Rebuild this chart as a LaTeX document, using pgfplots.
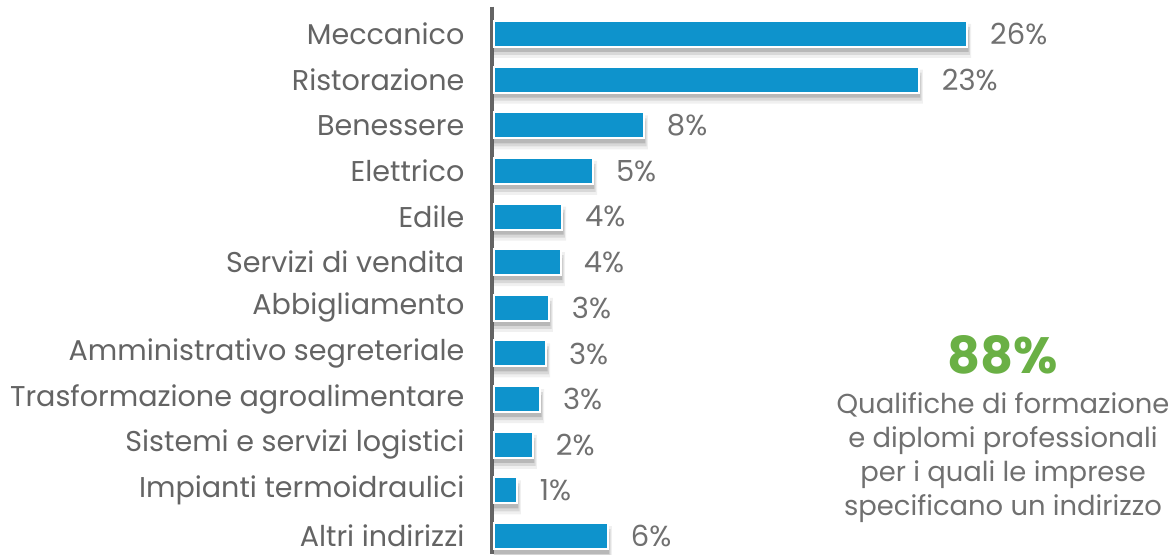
\documentclass[border=0pt]{standalone}
\usepackage{fontspec}
\setmainfont{Poppins}
\usepackage{pgfplots}
\pgfplotsset{compat=1.18}
\usepackage{pgfplotstable}
\definecolor{barblue}{RGB}{14,147,204}
\definecolor{labgray}{RGB}{100,100,100}
\definecolor{valgray}{RGB}{112,112,112}
\definecolor{axgray}{RGB}{100,100,100}
\definecolor{numgreen}{RGB}{106,176,69}
\pgfplotstableread{
y x label
0 26.0 26\%
1 23.35 23\%
2 8.24 8\%
3 5.44 5\%
4 3.74 4\%
5 3.68 4\%
6 3.02 3\%
7 2.86 3\%
8 2.53 3\%
9 2.14 2\%
10 1.26 1\%
11 6.26 6\%
}\shares
\begin{document}
\begin{tikzpicture}
\path[use as bounding box] (0,0) rectangle (587pt,277pt);
\begin{axis}[at={(246pt,273.7pt)},anchor=north west,scale only axis,
  width=337.7pt,height=273.85pt,
  xmin=-0.11,xmax=37,ymin=-0.6,ymax=11.4,y dir=reverse,
  hide x axis,axis y line=left,
  y axis line style={-,draw=axgray,line width=2pt},
  ytick={0,...,11},ytick style={draw=none},
  yticklabels={Meccanico,Ristorazione,Benessere,Elettrico,Edile,Servizi di vendita,Abbigliamento,Amministrativo segreteriale,Trasformazione agroalimentare,Sistemi e servizi logistici,Impianti termoidraulici,Altri indirizzi},
  yticklabel style={font=\fontsize{14.3}{16}\selectfont,text=labgray,inner sep=0pt,xshift=-11.5pt},
  clip=false]
% soft shadow, built from a few translucent layers (offset down/right by bar shift and x filter)
\addplot[xbar,bar width=17pt,bar shift=-3.5pt,fill=black,fill opacity=0.06,draw=none,forget plot,
  x filter/.expression={x+0.22}] table[x=x,y=y] {\shares};
\addplot[xbar,bar width=14pt,bar shift=-3.5pt,fill=black,fill opacity=0.10,draw=none,forget plot,
  x filter/.expression={x+0.15}] table[x=x,y=y] {\shares};
\addplot[xbar,bar width=11pt,bar shift=-3.5pt,fill=black,fill opacity=0.15,draw=none,forget plot,
  x filter/.expression={x+0.08}] table[x=x,y=y] {\shares};
\addplot[xbar,bar width=13pt,fill=barblue,draw=white,line width=1pt,
  nodes near coords,point meta=explicit symbolic,
  every node near coord/.append style={font=\fontsize{14.5}{16}\selectfont,text=valgray,anchor=west,inner sep=0pt,xshift=11pt}]
  table[x=x,y=y,meta=label] {\shares};
\end{axis}
\node[font=\fontsize{25.5}{28}\bfseries\selectfont,text=numgreen] at (501.5pt,99.5pt) {88\%};
\node[font=\fontsize{13.7}{17}\selectfont,text=valgray,align=center] at (501.5pt,48pt) {Qualifiche di formazione\\e diplomi professionali\\per i quali le imprese\\specificano un indirizzo};
\end{tikzpicture}
\end{document}
